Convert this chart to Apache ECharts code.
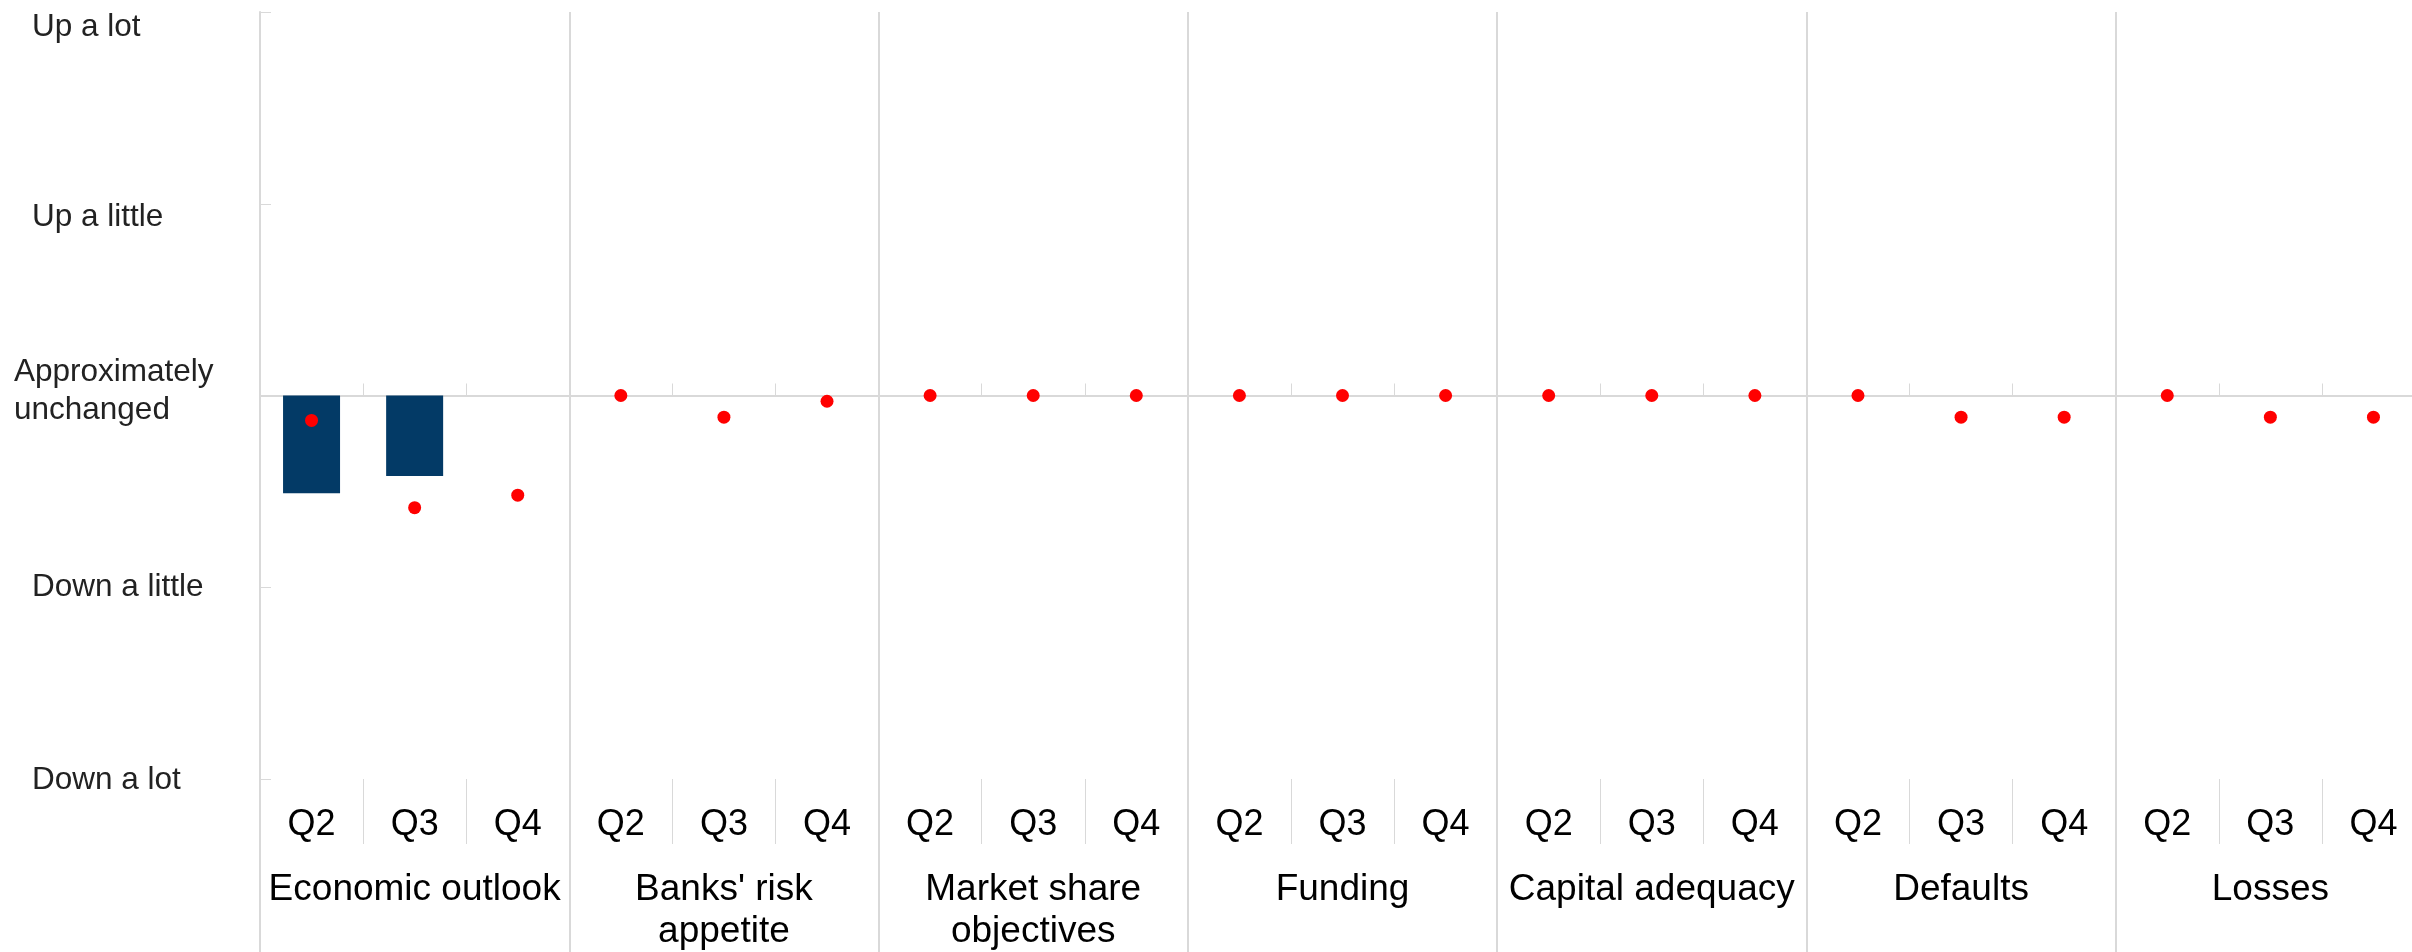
<!DOCTYPE html>
<html><head><meta charset="utf-8">
<script src="https://cdn.jsdelivr.net/npm/echarts@6/dist/echarts.min.js"></script>
<style>html,body{margin:0;padding:0;background:#fff}#c{width:2412px;height:952px}</style>
</head><body><div id="c"></div>
<script>
// y-axis levels (value -2 .. 2)
const yLevels = ['Down a lot', 'Down a little', 'Approximately\nunchanged', 'Up a little', 'Up a lot'];
// category tick labels
const quarters = ['Q2', 'Q3', 'Q4'];
const groups = ['Economic outlook', "Banks' risk\nappetite", 'Market share\nobjectives', 'Funding', 'Capital adequacy', 'Defaults', 'Losses'];
// bar series (one value per quarter, groups in order)
const barValues = [
  -0.51, -0.42, null,
  null, null, null,
  null, null, null,
  null, null, null,
  null, null, null,
  null, null, null,
  null, null, null
];
// dot series
const dotValues = [
  -0.13, -0.585, -0.52,
  0, -0.113, -0.03,
  0, 0, 0,
  0, 0, 0,
  0, 0, 0,
  0, -0.113, -0.113,
  0, -0.113, -0.113
];

const categories = [];
groups.forEach(() => quarters.forEach(q => categories.push(q)));

const FONT = '"Liberation Sans", Arial, sans-serif';
const GRID = '#d9d9d9';
const LBL = { fontSize: 31.5, fontFamily: FONT, color: '#222' };

const chart = echarts.init(document.getElementById('c'), null, { renderer: 'canvas' });
chart.setOption({
  animation: false,
  backgroundColor: '#fff',
  grid: { left: 260, top: 12, width: 2165, bottom: 173, containLabel: false, outerBoundsMode: 'none' },
  xAxis: [
    {
      type: 'category', data: categories, position: 'bottom',
      axisLine: { show: false, onZero: false },
      axisTick: { show: true, interval: 0, length: 65, lineStyle: { color: GRID, width: 1 } },
      axisLabel: { interval: 0, margin: 28, fontSize: 36, color: '#000', fontFamily: FONT },
      splitLine: { show: false }
    },
    {
      type: 'category', data: categories, position: 'bottom',
      axisLine: { show: true, onZero: true, lineStyle: { color: GRID, width: 2 } },
      axisTick: { show: true, inside: true, interval: 0, length: 12, lineStyle: { color: GRID, width: 1 } },
      axisLabel: { show: false },
      splitLine: { show: false }
    },
    {
      type: 'category', data: groups, position: 'bottom',
      axisLine: { show: false, onZero: false },
      axisTick: { show: true, interval: 0, length: 173, lineStyle: { color: GRID, width: 2 } },
      axisLabel: { interval: 0, margin: 90, fontSize: 37, lineHeight: 42, color: '#000', fontFamily: FONT },
      splitLine: { show: true, interval: 0, lineStyle: { color: GRID, width: 2 } }
    }
  ],
  yAxis: {
    type: 'value', min: -2, max: 2, interval: 1,
    axisLine: { show: true, lineStyle: { color: GRID, width: 2 } },
    axisTick: { show: true, inside: true, length: 11, lineStyle: { color: GRID, width: 1 } },
    splitLine: { show: false },
    axisLabel: {
      align: 'left', margin: 246, fontSize: 31.5, fontFamily: FONT, color: '#222',
      formatter: function (v) {
        const i = Math.round(v) + 2;
        return '{l' + i + '|' + yLevels[i] + '}';
      },
      rich: {
        l0: Object.assign({ padding: [3, 0, 0, 18] }, LBL),
        l1: Object.assign({ padding: [0, 0, 0, 18] }, LBL),
        l2: Object.assign({ padding: [0, 0, 9, 0], lineHeight: 38 }, LBL),
        l3: Object.assign({ padding: [27, 0, 0, 18] }, LBL),
        l4: Object.assign({ padding: [30, 0, 0, 18] }, LBL)
      }
    }
  },
  series: [
    { type: 'bar', xAxisIndex: 0, yAxisIndex: 0, data: barValues, barWidth: 57, itemStyle: { color: '#033a66' } },
    { type: 'scatter', xAxisIndex: 0, yAxisIndex: 0, data: dotValues, symbolSize: 13, itemStyle: { color: '#ff0000', opacity: 1 } }
  ]
});
</script>
</body></html>
